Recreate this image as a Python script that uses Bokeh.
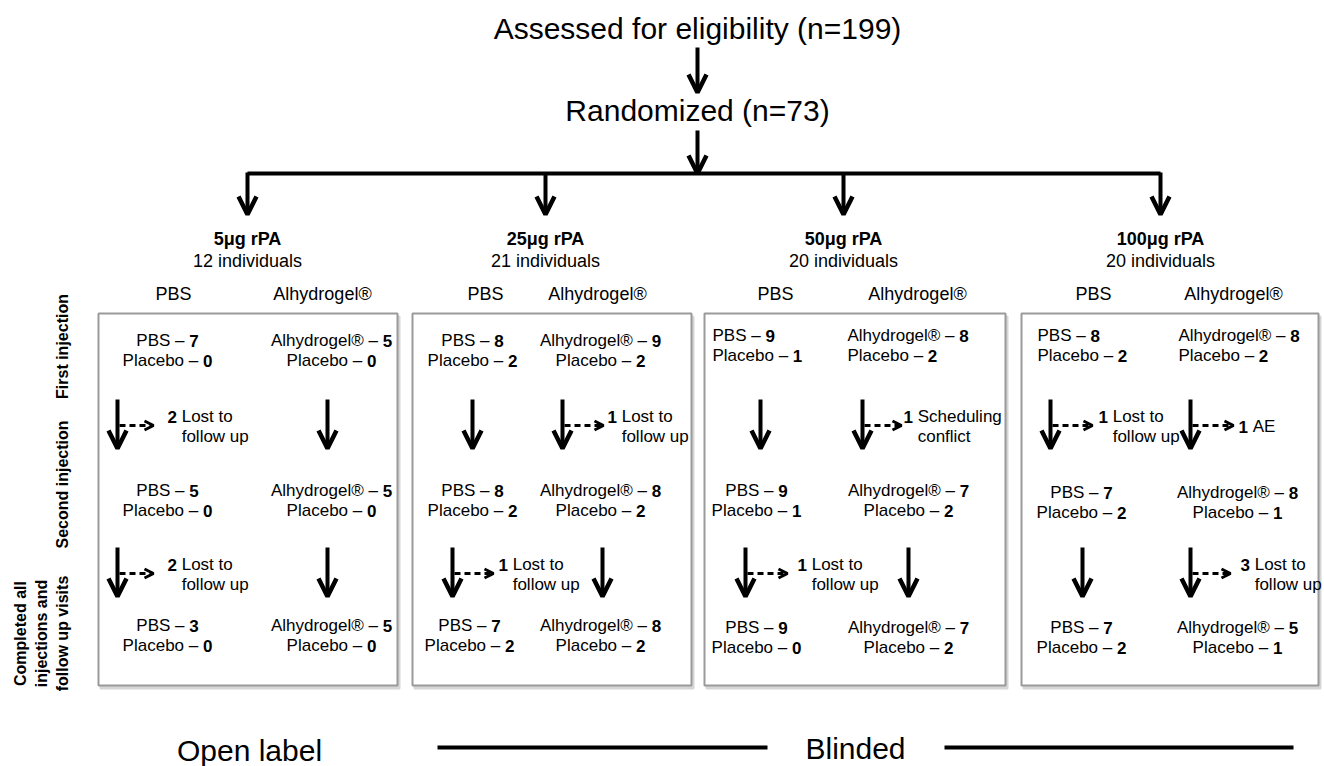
import math
from bokeh.plotting import figure
from bokeh.models import Range1d, Arrow, OpenHead, ColumnDataSource
from bokeh.embed import file_html
from bokeh.resources import INLINE
from bokeh.core.properties import value

# ---------------- data ----------------
screened = 199
randomized = 73
doses = ["5μg rPA", "25μg rPA", "50μg rPA", "100μg rPA"]
group_n = [12, 21, 20, 20]
arms = ["PBS", "Alhydrogel®"]
stage_labels = ["First injection", "Second injection",
                "Completed all\ninjections and\nfollow up visits"]
pbs_active = [[7, 5, 3], [8, 8, 7], [9, 9, 9], [8, 7, 7]]
pbs_placebo = [[0, 0, 0], [2, 2, 2], [1, 1, 0], [2, 2, 2]]
alhy_active = [[5, 5, 5], [9, 8, 8], [8, 7, 7], [8, 8, 5]]
alhy_placebo = [[0, 0, 0], [2, 2, 2], [2, 2, 2], [2, 1, 1]]
pbs_dropouts = [[2, 2], [0, 1], [0, 1], [1, 0]]
alhy_dropouts = [[0, 0], [1, 0], [1, 0], [1, 3]]
pbs_reasons = [["Lost to\nfollow up"] * 2] * 4
alhy_reasons = [[None, None], ["Lost to\nfollow up", None],
                ["Scheduling\nconflict", None], ["AE", "Lost to\nfollow up"]]
footer_open = "Open label"
footer_blind = "Blinded"

# ---------------- layout ----------------
FONT = "Liberation Sans"
GX = [247, 545, 843, 1160]
BOX_X = [(98, 397), (412, 691), (704, 1005), (1021, 1318)]
BOX_Y = (313, 685)
ARM_HDR_X = [(173, 322), (485, 597), (775, 917), (1093, 1233)]
ROW_Y = [[340, 490, 625], [340, 490, 625], [335, 490, 627], [335, 492, 627]]
TXT = [
    [[(167, 'c'), (331, 'c')], [(167, 'c'), (331, 'c')], [(167, 'c'), (331, 'c')]],
    [[(472, 'c'), (600, 'c')], [(472, 'c'), (600, 'c')], [(469, 'c'), (600, 'c')]],
    [[(712, 'l'), (847, 'l')], [(756, 'c'), (908, 'c')], [(756, 'c'), (908, 'c')]],
    [[(1037, 'l'), (1178, 'l')], [(1081, 'c'), (1237, 'c')], [(1081, 'c'), (1237, 'c')]],
]
ARROW_X = [[[117, 327], [117, 327]],
           [[472, 562], [452, 602]],
           [[760, 862], [745, 908]],
           [[1050, 1190], [1082, 1190]]]
ARROW_Y = [(399, 448), (547, 596)]
DASH_Y = [425, 573]
DROP_LAYOUT = {(0, 0, 0): (36, 50), (0, 0, 1): (36, 50), (1, 1, 0): (41, 45),
               (1, 0, 1): (41, 46), (2, 1, 0): (39, 41), (2, 0, 1): (42, 52),
               (3, 0, 0): (42, 48), (3, 1, 0): (43, 48), (3, 1, 1): (40, 50)}

W = {' ': 278, '–': 556, 'P': 667, 'B': 667, 'S': 667, 'l': 222, 'a': 556, 'c': 500,
     'e': 556, 'b': 556, 'o': 556, 'A': 667, 'h': 556, 'y': 500, 'd': 556, 'r': 333,
     'g': 556, '®': 737, 'L': 556, 's': 500, 't': 278, 'f': 278, 'w': 722, 'u': 556,
     'p': 556, 'E': 667}


def tw(s, size):
    return sum(W.get(ch, 556) for ch in s) * size / 1000.0


rows = dict(x=[], y=[], text=[], size=[], style=[], align=[], angle=[])


def add(x, y, t, size, bold=False, align='left', angle=0.0):
    rows['x'].append(x); rows['y'].append(y); rows['text'].append(t)
    rows['size'].append(f"{size}px"); rows['style'].append('bold' if bold else 'normal')
    rows['align'].append(align); rows['angle'].append(angle)


p = figure(width=1324, height=766, x_range=Range1d(0, 1324), y_range=Range1d(766, 0),
           output_backend="svg", toolbar_location=None, min_border=0,
           x_axis_location=None, y_axis_location=None)
p.grid.visible = False
p.outline_line_color = None
p.background_fill_color = "white"
p.border_fill_color = "white"


def arrow(x0, y0, x1, y1, lw=4, size=18, dash="solid", head_lw=4.5):
    p.add_layout(Arrow(x_start=x0, y_start=y0, x_end=x1, y_end=y1, line_width=lw,
                       line_color="black", line_dash=dash,
                       end=OpenHead(size=size, line_width=head_lw, line_color="black")))


# top
TOP_X = 697
add(TOP_X, 28, f"Assessed for eligibility (n={screened})", 30, align='center')
arrow(TOP_X, 47, TOP_X, 92)
add(TOP_X, 110, f"Randomized (n={randomized})", 30, align='center')
arrow(TOP_X, 130, TOP_X, 173)
p.segment(x0=[GX[0]], y0=[173], x1=[GX[-1]], y1=[173], line_width=4, line_color="black")
for g in range(4):
    arrow(GX[g], 172, GX[g], 214)
    add(GX[g], 238, doses[g], 18, bold=True, align='center')
    add(GX[g], 260, f"{group_n[g]} individuals", 18, align='center')
    add(ARM_HDR_X[g][0], 293, arms[0], 18, align='center')
    add(ARM_HDR_X[g][1], 293, arms[1], 18, align='center')

# boxes (shadow + frame)
lefts = [b[0] for b in BOX_X]
rights = [b[1] for b in BOX_X]
p.quad(left=[l + 2 for l in lefts], right=[r + 2 for r in rights],
       top=[BOX_Y[0] + 3] * 4, bottom=[BOX_Y[1] + 3] * 4,
       fill_color="#d6d6d6", line_color="#d6d6d6", line_width=2)
p.quad(left=lefts, right=rights, top=[BOX_Y[0]] * 4, bottom=[BOX_Y[1]] * 4,
       fill_color="white", line_color="#9a9a9a", line_width=2)

# stage labels (rotated)
add(62, 346, stage_labels[0], 16, bold=True, align='center', angle=math.pi / 2)
add(62, 484, stage_labels[1], 16, bold=True, align='center', angle=math.pi / 2)
for i, ln in enumerate(stage_labels[2].split("\n")):
    add([20, 41, 62][i], 633, ln, 16, bold=True, align='center', angle=math.pi / 2)

FS = 17
# counts
for g in range(4):
    for r in range(3):
        for a in range(2):
            act = (pbs_active if a == 0 else alhy_active)[g][r]
            plc = (pbs_placebo if a == 0 else alhy_placebo)[g][r]
            x, al = TXT[g][r][a]
            y1 = ROW_Y[g][r]
            for yy, reg, num in ((y1, f"{arms[a]} –", str(act)), (y1 + 20, "Placebo –", str(plc))):
                total = tw(reg + " ", FS) + tw(num, FS)
                x0 = x - total / 2 if al == 'c' else x
                add(x0, yy, reg, FS)
                add(x0 + tw(reg + " ", FS), yy, num, FS, bold=True)

# arrows between stages and dropouts
for g in range(4):
    for t in range(2):
        for a in range(2):
            ax = ARROW_X[g][t][a]
            arrow(ax, ARROW_Y[t][0], ax, ARROW_Y[t][1])
            cnt = (pbs_dropouts if a == 0 else alhy_dropouts)[g][t]
            if cnt > 0:
                reason = (pbs_reasons if a == 0 else alhy_reasons)[g][t]
                dend, noff = DROP_LAYOUT[(g, a, t)]
                yd = DASH_Y[t]
                arrow(ax + 2, yd, ax + dend, yd, lw=3, size=9, dash="6 4", head_lw=3)
                xn = ax + noff
                lines = reason.split("\n")
                num = str(cnt)
                xt = xn + tw(num + " ", FS)
                if len(lines) == 1:
                    add(xn, yd + 1, num, FS, bold=True)
                    add(xt, yd + 1, lines[0], FS)
                else:
                    add(xn, yd - 9, num, FS, bold=True)
                    add(xt, yd - 9, lines[0], FS)
                    add(xt, yd + 11, lines[1], FS)

# footer
add(249, 750, footer_open, 30, align='center')
add(855, 748, footer_blind, 30, align='center')
p.segment(x0=[437, 944], y0=[747, 747], x1=[767, 1293], y1=[747, 747],
          line_width=4, line_color="black")

src = ColumnDataSource(rows)
p.text(x='x', y='y', text='text', source=src, text_font=value(FONT),
       text_font_size='size', text_font_style='style', text_align='align',
       text_baseline='middle', angle='angle', text_color="black")

open("out.html", "w").write(file_html(p, INLINE))
